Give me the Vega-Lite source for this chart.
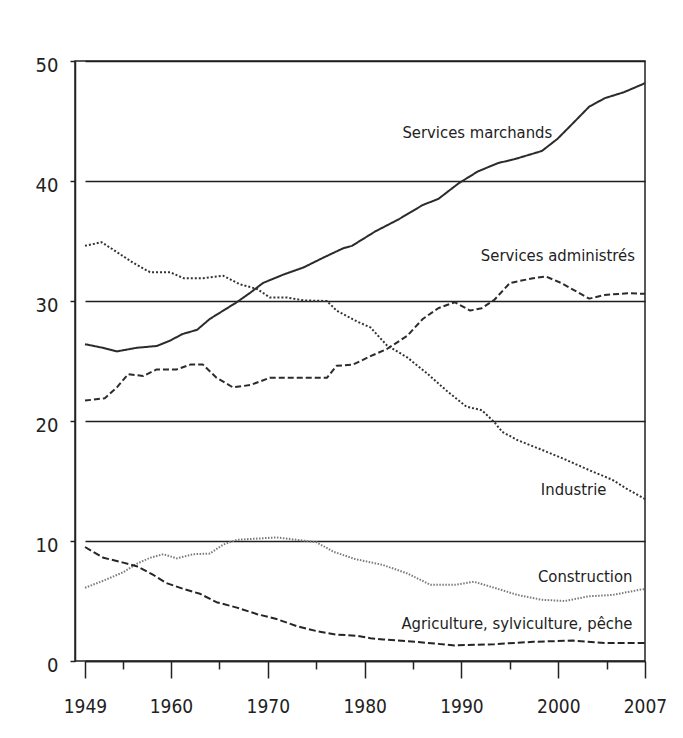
{
  "$schema": "https://vega.github.io/schema/vega-lite/v6.json",
  "width": 570,
  "height": 600,
  "autosize": "none",
  "padding": {"left": 75, "top": 61, "right": 38, "bottom": 77},
  "background": "white",
  "config": {
    "view": {"stroke": "#222", "strokeWidth": 1.5},
    "font": "DejaVu Sans Condensed, DejaVu Sans, sans-serif"
  },
  "datasets": {
    "series": [
      {"secteur": "Services marchands", "annee": 1949, "part": 26.4},
      {"secteur": "Services marchands", "annee": 1951.8, "part": 26.1},
      {"secteur": "Services marchands", "annee": 1954.0, "part": 25.8},
      {"secteur": "Services marchands", "annee": 1956.4, "part": 26.1},
      {"secteur": "Services marchands", "annee": 1958.5, "part": 26.25},
      {"secteur": "Services marchands", "annee": 1959.9, "part": 26.7},
      {"secteur": "Services marchands", "annee": 1961.2, "part": 27.25},
      {"secteur": "Services marchands", "annee": 1962.7, "part": 27.6},
      {"secteur": "Services marchands", "annee": 1964.0, "part": 28.5},
      {"secteur": "Services marchands", "annee": 1965.4, "part": 29.2},
      {"secteur": "Services marchands", "annee": 1966.8, "part": 29.9},
      {"secteur": "Services marchands", "annee": 1968.2, "part": 30.7},
      {"secteur": "Services marchands", "annee": 1969.5, "part": 31.5},
      {"secteur": "Services marchands", "annee": 1971.6, "part": 32.2},
      {"secteur": "Services marchands", "annee": 1973.7, "part": 32.8},
      {"secteur": "Services marchands", "annee": 1975.7, "part": 33.6},
      {"secteur": "Services marchands", "annee": 1977.8, "part": 34.4},
      {"secteur": "Services marchands", "annee": 1978.7, "part": 34.6},
      {"secteur": "Services marchands", "annee": 1981.1, "part": 35.8},
      {"secteur": "Services marchands", "annee": 1983.5, "part": 36.8},
      {"secteur": "Services marchands", "annee": 1986.0, "part": 38.0},
      {"secteur": "Services marchands", "annee": 1987.6, "part": 38.5},
      {"secteur": "Services marchands", "annee": 1989.7, "part": 39.8},
      {"secteur": "Services marchands", "annee": 1991.7, "part": 40.8},
      {"secteur": "Services marchands", "annee": 1993.8, "part": 41.5},
      {"secteur": "Services marchands", "annee": 1995.4, "part": 41.8},
      {"secteur": "Services marchands", "annee": 1998.3, "part": 42.5},
      {"secteur": "Services marchands", "annee": 1999.9, "part": 43.5},
      {"secteur": "Services marchands", "annee": 2001.5, "part": 44.8},
      {"secteur": "Services marchands", "annee": 2003.2, "part": 46.2},
      {"secteur": "Services marchands", "annee": 2004.8, "part": 46.9},
      {"secteur": "Services marchands", "annee": 2005.9, "part": 47.4},
      {"secteur": "Services marchands", "annee": 2007, "part": 48.15},

      {"secteur": "Services administrés", "annee": 1949, "part": 21.7},
      {"secteur": "Services administrés", "annee": 1952.1, "part": 21.9},
      {"secteur": "Services administrés", "annee": 1954.0, "part": 22.8},
      {"secteur": "Services administrés", "annee": 1955.5, "part": 23.9},
      {"secteur": "Services administrés", "annee": 1957.1, "part": 23.75},
      {"secteur": "Services administrés", "annee": 1958.5, "part": 24.3},
      {"secteur": "Services administrés", "annee": 1960.6, "part": 24.3},
      {"secteur": "Services administrés", "annee": 1962.0, "part": 24.7},
      {"secteur": "Services administrés", "annee": 1963.3, "part": 24.7},
      {"secteur": "Services administrés", "annee": 1964.7, "part": 23.6},
      {"secteur": "Services administrés", "annee": 1966.4, "part": 22.8},
      {"secteur": "Services administrés", "annee": 1968.2, "part": 23.0},
      {"secteur": "Services administrés", "annee": 1970.2, "part": 23.6},
      {"secteur": "Services administrés", "annee": 1973.0, "part": 23.6},
      {"secteur": "Services administrés", "annee": 1976.1, "part": 23.6},
      {"secteur": "Services administrés", "annee": 1977.1, "part": 24.6},
      {"secteur": "Services administrés", "annee": 1978.8, "part": 24.7},
      {"secteur": "Services administrés", "annee": 1980.6, "part": 25.4},
      {"secteur": "Services administrés", "annee": 1982.3, "part": 26.0},
      {"secteur": "Services administrés", "annee": 1984.4, "part": 27.1},
      {"secteur": "Services administrés", "annee": 1986.0, "part": 28.5},
      {"secteur": "Services administrés", "annee": 1987.6, "part": 29.4},
      {"secteur": "Services administrés", "annee": 1989.3, "part": 29.9},
      {"secteur": "Services administrés", "annee": 1990.9, "part": 29.2},
      {"secteur": "Services administrés", "annee": 1992.1, "part": 29.4},
      {"secteur": "Services administrés", "annee": 1993.4, "part": 30.1},
      {"secteur": "Services administrés", "annee": 1995.0, "part": 31.5},
      {"secteur": "Services administrés", "annee": 1997.4, "part": 31.9},
      {"secteur": "Services administrés", "annee": 1998.7, "part": 32.05},
      {"secteur": "Services administrés", "annee": 2000.3, "part": 31.5},
      {"secteur": "Services administrés", "annee": 2003.2, "part": 30.2},
      {"secteur": "Services administrés", "annee": 2004.8, "part": 30.5},
      {"secteur": "Services administrés", "annee": 2006.1, "part": 30.65},
      {"secteur": "Services administrés", "annee": 2007, "part": 30.6},

      {"secteur": "Industrie", "annee": 1949, "part": 34.6},
      {"secteur": "Industrie", "annee": 1951.6, "part": 34.9},
      {"secteur": "Industrie", "annee": 1954.5, "part": 33.9},
      {"secteur": "Industrie", "annee": 1956.0, "part": 33.2},
      {"secteur": "Industrie", "annee": 1957.8, "part": 32.4},
      {"secteur": "Industrie", "annee": 1959.9, "part": 32.4},
      {"secteur": "Industrie", "annee": 1961.3, "part": 31.9},
      {"secteur": "Industrie", "annee": 1963.3, "part": 31.9},
      {"secteur": "Industrie", "annee": 1965.4, "part": 32.1},
      {"secteur": "Industrie", "annee": 1967.1, "part": 31.4},
      {"secteur": "Industrie", "annee": 1968.9, "part": 31.0},
      {"secteur": "Industrie", "annee": 1970.2, "part": 30.3},
      {"secteur": "Industrie", "annee": 1971.9, "part": 30.3},
      {"secteur": "Industrie", "annee": 1973.7, "part": 30.05},
      {"secteur": "Industrie", "annee": 1976.1, "part": 30.0},
      {"secteur": "Industrie", "annee": 1977.1, "part": 29.2},
      {"secteur": "Industrie", "annee": 1979.2, "part": 28.3},
      {"secteur": "Industrie", "annee": 1980.6, "part": 27.8},
      {"secteur": "Industrie", "annee": 1982.3, "part": 26.3},
      {"secteur": "Industrie", "annee": 1984.4, "part": 25.3},
      {"secteur": "Industrie", "annee": 1986.4, "part": 24.0},
      {"secteur": "Industrie", "annee": 1988.5, "part": 22.5},
      {"secteur": "Industrie", "annee": 1990.5, "part": 21.2},
      {"secteur": "Industrie", "annee": 1992.1, "part": 20.9},
      {"secteur": "Industrie", "annee": 1993.4, "part": 19.9},
      {"secteur": "Industrie", "annee": 1994.2, "part": 19.1},
      {"secteur": "Industrie", "annee": 1995.8, "part": 18.4},
      {"secteur": "Industrie", "annee": 1998.3, "part": 17.6},
      {"secteur": "Industrie", "annee": 2000.7, "part": 16.8},
      {"secteur": "Industrie", "annee": 2003.2, "part": 15.9},
      {"secteur": "Industrie", "annee": 2005.3, "part": 15.1},
      {"secteur": "Industrie", "annee": 2006.1, "part": 14.3},
      {"secteur": "Industrie", "annee": 2007, "part": 13.5},

      {"secteur": "Construction", "annee": 1949, "part": 6.1},
      {"secteur": "Construction", "annee": 1951.9, "part": 6.7},
      {"secteur": "Construction", "annee": 1955.0, "part": 7.4},
      {"secteur": "Construction", "annee": 1956.4, "part": 8.1},
      {"secteur": "Construction", "annee": 1957.8, "part": 8.6},
      {"secteur": "Construction", "annee": 1959.2, "part": 8.9},
      {"secteur": "Construction", "annee": 1960.6, "part": 8.55},
      {"secteur": "Construction", "annee": 1962.3, "part": 8.9},
      {"secteur": "Construction", "annee": 1964.0, "part": 8.95},
      {"secteur": "Construction", "annee": 1965.4, "part": 9.7},
      {"secteur": "Construction", "annee": 1966.8, "part": 10.1},
      {"secteur": "Construction", "annee": 1968.9, "part": 10.2},
      {"secteur": "Construction", "annee": 1970.9, "part": 10.3},
      {"secteur": "Construction", "annee": 1973.0, "part": 10.1},
      {"secteur": "Construction", "annee": 1975.0, "part": 9.9},
      {"secteur": "Construction", "annee": 1976.8, "part": 9.1},
      {"secteur": "Construction", "annee": 1979.0, "part": 8.5},
      {"secteur": "Construction", "annee": 1981.9, "part": 8.0},
      {"secteur": "Construction", "annee": 1984.4, "part": 7.3},
      {"secteur": "Construction", "annee": 1986.8, "part": 6.35},
      {"secteur": "Construction", "annee": 1989.3, "part": 6.35},
      {"secteur": "Construction", "annee": 1991.3, "part": 6.6},
      {"secteur": "Construction", "annee": 1993.4, "part": 6.1},
      {"secteur": "Construction", "annee": 1995.8, "part": 5.5},
      {"secteur": "Construction", "annee": 1998.3, "part": 5.1},
      {"secteur": "Construction", "annee": 2000.7, "part": 5.0},
      {"secteur": "Construction", "annee": 2003.2, "part": 5.4},
      {"secteur": "Construction", "annee": 2005.3, "part": 5.5},
      {"secteur": "Construction", "annee": 2006.6, "part": 5.9},
      {"secteur": "Construction", "annee": 2007, "part": 6.0},

      {"secteur": "Agriculture, sylviculture, pêche", "annee": 1949, "part": 9.5},
      {"secteur": "Agriculture, sylviculture, pêche", "annee": 1951.9, "part": 8.6},
      {"secteur": "Agriculture, sylviculture, pêche", "annee": 1955.0, "part": 8.2},
      {"secteur": "Agriculture, sylviculture, pêche", "annee": 1956.4, "part": 7.9},
      {"secteur": "Agriculture, sylviculture, pêche", "annee": 1958.1, "part": 7.2},
      {"secteur": "Agriculture, sylviculture, pêche", "annee": 1959.5, "part": 6.5},
      {"secteur": "Agriculture, sylviculture, pêche", "annee": 1961.3, "part": 6.0},
      {"secteur": "Agriculture, sylviculture, pêche", "annee": 1963.0, "part": 5.6},
      {"secteur": "Agriculture, sylviculture, pêche", "annee": 1964.7, "part": 4.9},
      {"secteur": "Agriculture, sylviculture, pêche", "annee": 1966.8, "part": 4.45},
      {"secteur": "Agriculture, sylviculture, pêche", "annee": 1968.9, "part": 3.9},
      {"secteur": "Agriculture, sylviculture, pêche", "annee": 1970.9, "part": 3.5},
      {"secteur": "Agriculture, sylviculture, pêche", "annee": 1973.0, "part": 2.9},
      {"secteur": "Agriculture, sylviculture, pêche", "annee": 1975.0, "part": 2.5},
      {"secteur": "Agriculture, sylviculture, pêche", "annee": 1977.1, "part": 2.2},
      {"secteur": "Agriculture, sylviculture, pêche", "annee": 1979.2, "part": 2.1},
      {"secteur": "Agriculture, sylviculture, pêche", "annee": 1980.6, "part": 1.9},
      {"secteur": "Agriculture, sylviculture, pêche", "annee": 1981.9, "part": 1.8},
      {"secteur": "Agriculture, sylviculture, pêche", "annee": 1985.2, "part": 1.6},
      {"secteur": "Agriculture, sylviculture, pêche", "annee": 1989.3, "part": 1.3},
      {"secteur": "Agriculture, sylviculture, pêche", "annee": 1993.4, "part": 1.4},
      {"secteur": "Agriculture, sylviculture, pêche", "annee": 1997.4, "part": 1.6},
      {"secteur": "Agriculture, sylviculture, pêche", "annee": 2001.5, "part": 1.7},
      {"secteur": "Agriculture, sylviculture, pêche", "annee": 2004.8, "part": 1.5},
      {"secteur": "Agriculture, sylviculture, pêche", "annee": 2007, "part": 1.5}
    ],
    "labels": [
      {"texte": "Services marchands", "annee": 1983.9, "part": 44.0},
      {"texte": "Services administrés", "annee": 1992.0, "part": 33.75},
      {"texte": "Industrie", "annee": 1998.2, "part": 14.25},
      {"texte": "Construction", "annee": 1997.9, "part": 7.0},
      {"texte": "Agriculture, sylviculture, pêche", "annee": 1983.8, "part": 3.1}
    ]
  },
  "layer": [
    {
      "data": {"name": "series"},
      "mark": {"type": "line", "strokeCap": "butt", "strokeJoin": "round"},
      "encoding": {
        "x": {
          "field": "annee",
          "type": "quantitative",
          "scale": {
            "domain": [1949, 1955, 1960, 2005, 2007],
            "range": [10, 48.3, 96, 531.7, 570],
            "nice": false,
            "zero": false
          },
          "axis": {
            "title": null,
            "values": [1949, 1955, 1960, 1965, 1970, 1975, 1980, 1985, 1990, 1995, 2000, 2005, 2007],
            "format": "d",
            "labelExpr": "datum.value % 10 == 5 ? '' : datum.label",
            "grid": false,
            "domainColor": "#222",
            "domainWidth": 1.5,
            "tickColor": "#222",
            "tickWidth": 1.5,
            "tickSize": {"condition": {"test": "datum.value % 10 == 5", "value": 8}, "value": 17},
            "labelFont": "DejaVu Sans Condensed, DejaVu Sans, sans-serif",
            "labelFontSize": 19,
            "labelColor": "#222",
            "labelPadding": 19,
            "labelFlush": false,
            "labelOverlap": false
          }
        },
        "y": {
          "field": "part",
          "type": "quantitative",
          "scale": {"domain": [0, 50], "nice": false},
          "axis": {
            "title": null,
            "values": [0, 10, 20, 30, 40, 50],
            "grid": true,
            "gridColor": "#1e1e1e",
            "gridWidth": 1.6,
            "gridOpacity": 1,
            "domainColor": "#222",
            "domainWidth": 1.5,
            "tickColor": "#222",
            "tickWidth": 1.5,
            "tickSize": 5,
            "labelFont": "DejaVu Sans Condensed, DejaVu Sans, sans-serif",
            "labelFontSize": 20,
            "labelColor": "#222",
            "labelPadding": 12,
            "labelOffset": 4,
            "labelFlush": false
          }
        },
        "detail": {"field": "secteur", "type": "nominal"},
        "color": {
          "field": "secteur",
          "type": "nominal",
          "legend": null,
          "scale": {
            "domain": ["Services marchands", "Services administrés", "Industrie", "Construction", "Agriculture, sylviculture, pêche"],
            "range": ["#2b2b2b", "#2b2b2b", "#333333", "#7a7a7a", "#252525"]
          }
        },
        "strokeDash": {
          "field": "secteur",
          "type": "nominal",
          "legend": null,
          "scale": {
            "domain": ["Services marchands", "Services administrés", "Industrie", "Construction", "Agriculture, sylviculture, pêche"],
            "range": [[1, 0], [6, 3], [2, 2], [1.5, 1.5], [7, 3]]
          }
        },
        "strokeWidth": {
          "field": "secteur",
          "type": "nominal",
          "legend": null,
          "scale": {
            "domain": ["Services marchands", "Services administrés", "Industrie", "Construction", "Agriculture, sylviculture, pêche"],
            "range": [2, 2, 2.3, 1.5, 2.6]
          }
        }
      }
    },
    {
      "data": {"name": "labels"},
      "mark": {
        "type": "text",
        "align": "left",
        "baseline": "middle",
        "font": "DejaVu Sans Condensed, DejaVu Sans, sans-serif",
        "fontSize": 16.5,
        "color": "#222"
      },
      "encoding": {
        "x": {"field": "annee", "type": "quantitative"},
        "y": {"field": "part", "type": "quantitative"},
        "text": {"field": "texte", "type": "nominal"}
      }
    }
  ]
}
